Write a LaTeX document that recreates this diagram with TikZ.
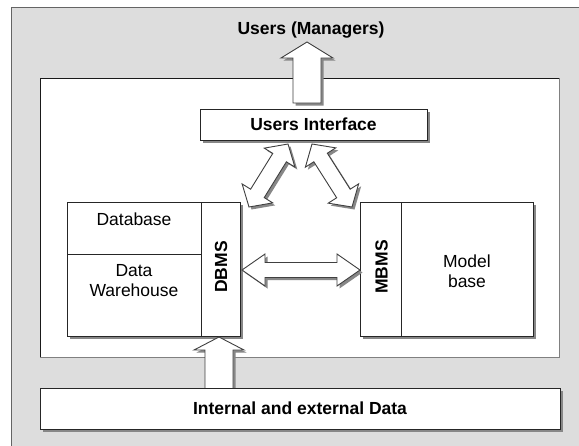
\documentclass[tikz,border=0pt]{standalone}
\usepackage{fontspec}
\setmainfont{Liberation Sans}
\usetikzlibrary{calc,shadows}

\definecolor{panelgray}{RGB}{221,221,221}
\definecolor{panelline}{RGB}{100,100,100}
\definecolor{shadowgray}{RGB}{135,135,135}

% Double-headed block arrow between two tips:
% #1,#2 tips; #3 shaft half-width; #4 head half-width; #5 head length
\newcommand\twoheadarrow[5]{%
  \draw[blockarrow] (#1)
    -- ($(#1)!#5!(#2)!#4!90:(#2)$) -- ($(#1)!#5!(#2)!#3!90:(#2)$)
    -- ($(#2)!#5!(#1)!#3!-90:(#1)$) -- ($(#2)!#5!(#1)!#4!-90:(#1)$)
    -- (#2)
    -- ($(#2)!#5!(#1)!#4!90:(#1)$) -- ($(#2)!#5!(#1)!#3!90:(#1)$)
    -- ($(#1)!#5!(#2)!#3!-90:(#2)$) -- ($(#1)!#5!(#2)!#4!-90:(#2)$)
    -- cycle;}

% Single-headed block arrow: #1 tip, #2 flat end, #3 shaft half-width,
% #4 head half-width, #5 head length
\newcommand\oneheadarrow[5]{%
  \draw[blockarrow] (#1)
    -- ($(#1)!#5!(#2)!#4!90:(#2)$) -- ($(#1)!#5!(#2)!#3!90:(#2)$)
    -- ($(#2)!#3!-90:(#1)$) -- ($(#2)!#3!90:(#1)$)
    -- ($(#1)!#5!(#2)!#3!-90:(#2)$) -- ($(#1)!#5!(#2)!#4!-90:(#2)$)
    -- cycle;}

\tikzset{
  shade/.style={drop shadow={shadow xshift=2.5pt, shadow yshift=-2.5pt,
      fill=shadowgray, opacity=1}},
  box/.style={draw=black!85, line width=1pt, fill=white, shade,
      inner sep=0pt},
  cell/.style={draw=black!85, line width=1pt, inner sep=0pt},
  blockarrow/.style={draw=black!75, line width=0.9pt, fill=white,
      line join=miter, shade},
  txt/.style={font=\fontsize{17.5}{20}\selectfont, align=center,
      inner sep=0pt},
  btxt/.style={font=\fontsize{17.5}{20}\selectfont\bfseries,
      align=center, inner sep=0pt},
}

\begin{document}
\begin{tikzpicture}[x=1pt,y=-1pt]
\clip (0,0) rectangle (579,445);
\fill[white] (0,0) rectangle (579,445);

% grey outer panel, running off the right and bottom edges
\draw[panelline, line width=1.6pt, fill=panelgray] (11.5,7.5) rectangle (640,500);

% white working area with a sunken border
\fill[white] (40,78) rectangle (559,357);
\draw[black!90, line width=1pt] (40,357) -- (40,78) -- (559,78);
\draw[black!50, line width=1pt] (559,78) -- (559,357) -- (40,357);

% top: users and their interface
\node[btxt] (users) at (311,30) {Users (Managers)};
\node[box, btxt, minimum width=227pt, minimum height=31pt] (ui) at (313.5,124.5) {Users Interface};

% left block: database, data warehouse and DBMS
\node[box, minimum width=173pt, minimum height=134pt] (dbside) at (153.5,269) {};
\node[cell, minimum width=134pt, minimum height=52pt] (dbcell) at (134,228) {};
\node[cell, minimum width=134pt, minimum height=82pt] (dwcell) at (134,295) {};
\node[cell, minimum width=39pt, minimum height=134pt] (dbms) at (220.5,269) {};
\node[txt] (dbtext) at (134,219) {Database};
\node[txt] (dwtext) at (134,281) {Data\\Warehouse};
\node[btxt, rotate=90] (dbmstext) at (221,267) {DBMS};

% right block: MBMS and model base
\node[box, minimum width=173pt, minimum height=134pt] (mbside) at (446.5,269) {};
\node[cell, minimum width=41pt, minimum height=134pt] (mbms) at (380.5,269) {};
\node[cell, minimum width=132pt, minimum height=134pt] (mbcell) at (467,269) {};
\node[btxt, rotate=90] (mbmstext) at (381.5,267) {MBMS};
\node[txt] (mbtext) at (467,271) {Model\\base};

% arrow ends
\coordinate (upTip)  at (307,42);
\coordinate (upEnd)  at (307,103);
\coordinate (lLow)   at (249,207);
\coordinate (lHigh)  at (288,144);
\coordinate (rLow)   at (352,207);
\coordinate (rHigh)  at (312,144);
\coordinate (hLeft)  at (242,270);
\coordinate (hRight) at (360,270);
\coordinate (inTip)  at (219,337);
\coordinate (inEnd)  at (219,389);

% block arrows
\oneheadarrow{upTip}{upEnd}{14pt}{26pt}{16pt}
\twoheadarrow{lLow}{lHigh}{8pt}{18pt}{16pt}
\twoheadarrow{rLow}{rHigh}{8pt}{18pt}{16pt}
\twoheadarrow{hLeft}{hRight}{7.5pt}{16pt}{23pt}
\oneheadarrow{inTip}{inEnd}{14pt}{25pt}{13pt}

% bottom: data sources
\node[box, btxt, minimum width=520pt, minimum height=41pt] (data) at (300,408.5) {Internal and external Data};
\end{tikzpicture}
\end{document}
